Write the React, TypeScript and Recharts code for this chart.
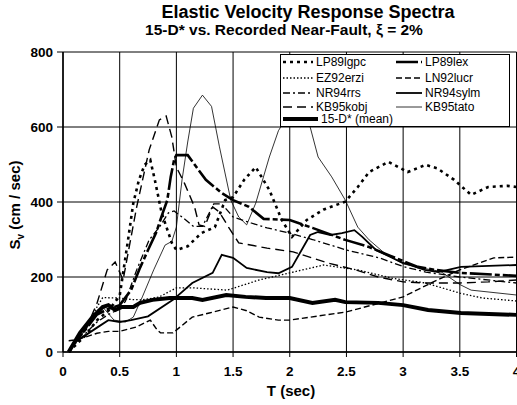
import React from 'react';
import { LineChart, Line, XAxis, YAxis, CartesianGrid } from 'recharts';

type Pt = [number, number];

// period T (sec), Sv (cm/sec)
const LP89lgpc: Pt[] = [[0.05,0],[0.1,15],[0.2,45],[0.3,85],[0.4,110],[0.5,150],[0.57,291],[0.62,397],[0.67,459],[0.72,499],[0.77,512],[0.81,459],[0.87,371],[0.96,291],[1.0,272],[1.1,282],[1.22,317],[1.34,333],[1.43,405],[1.5,413],[1.6,460],[1.7,493],[1.82,432],[1.93,352],[2.02,307],[2.15,352],[2.3,380],[2.49,401],[2.6,440],[2.7,480],[2.87,507],[3.04,480],[3.2,499],[3.3,490],[3.45,459],[3.6,419],[3.75,440],[3.92,443],[4.0,440]];
const LP89lex: Pt[] = [[0.05,0],[0.1,25],[0.2,60],[0.3,100],[0.4,115],[0.5,125],[0.6,165],[0.68,225],[0.75,272],[0.82,317],[0.88,371],[0.92,405],[0.95,467],[0.98,512],[1.0,525],[1.1,525],[1.26,459],[1.4,424],[1.5,405],[1.64,387],[1.77,355],[2.0,352],[2.2,331],[2.49,299],[2.7,280],[2.93,251],[3.13,227],[3.28,219],[3.5,211],[4.0,203]];
const EZ92erzi: Pt[] = [[0.05,0],[0.1,25],[0.2,60],[0.3,120],[0.35,145],[0.5,144],[0.6,140],[0.7,139],[0.85,147],[1.0,171],[1.15,171],[1.45,165],[1.73,192],[2.0,211],[2.3,232],[2.6,219],[2.9,197],[3.2,184],[3.5,157],[3.7,144],[4.0,136]];
const LN92lucr: Pt[] = [[0.05,30],[0.1,32],[0.2,40],[0.3,50],[0.4,55],[0.5,55],[0.65,67],[0.77,85],[0.83,59],[0.86,51],[0.97,51],[1.14,93],[1.29,104],[1.5,120],[1.62,110],[1.73,93],[1.9,85],[2.0,85],[2.5,107],[2.8,131],[3.0,147],[3.3,192],[3.5,219],[3.8,251],[4.0,253]];
const NR94rrs: Pt[] = [[0.05,0],[0.1,20],[0.2,50],[0.3,80],[0.4,100],[0.5,115],[0.55,135],[0.65,219],[0.76,299],[0.85,333],[0.93,371],[0.98,376],[1.05,360],[1.15,335],[1.23,335],[1.33,395],[1.4,395],[1.5,360],[1.66,344],[1.8,331],[2.0,317],[2.2,300],[2.5,272],[2.8,250],[3.0,228],[3.2,213],[3.5,200],[4.0,184]];
const NR94sylm: Pt[] = [[0.05,0],[0.1,25],[0.2,45],[0.3,65],[0.4,85],[0.5,80],[0.6,85],[0.75,95],[0.97,139],[1.14,184],[1.32,211],[1.4,259],[1.5,251],[1.62,224],[1.8,213],[1.9,210],[2.02,227],[2.18,312],[2.25,320],[2.36,312],[2.46,317],[2.57,325],[2.64,307],[2.76,272],[2.98,240],[3.19,219],[3.31,213],[3.51,227],[4.0,232]];
const KB95kobj: Pt[] = [[0.05,0],[0.1,20],[0.2,60],[0.3,130],[0.39,219],[0.46,240],[0.53,192],[0.65,387],[0.76,539],[0.85,619],[0.91,629],[0.96,573],[1.0,493],[1.07,451],[1.16,387],[1.2,339],[1.25,335],[1.32,387],[1.38,373],[1.46,333],[1.55,291],[1.8,277],[2.03,267],[2.34,237],[2.58,219],[2.78,200],[3.0,187],[3.2,184],[3.5,184],[3.75,187],[4.0,192]];
const KB95tato: Pt[] = [[0.05,0],[0.15,40],[0.3,100],[0.35,120],[0.45,85],[0.55,80],[0.62,93],[0.7,147],[0.8,219],[0.9,285],[0.96,295],[1.0,333],[1.05,459],[1.1,560],[1.15,650],[1.23,685],[1.31,655],[1.38,547],[1.48,405],[1.55,360],[1.62,339],[1.7,397],[1.82,520],[1.9,590],[2.0,640],[2.1,680],[2.18,600],[2.25,520],[2.37,467],[2.49,405],[2.6,333],[2.7,299],[2.85,260],[3.0,235],[3.2,222],[3.33,215],[3.5,180],[3.6,165],[4.0,152]];
const mean15D: Pt[] = [[0.05,0],[0.15,51],[0.26,93],[0.35,120],[0.4,125],[0.46,112],[0.52,120],[0.62,120],[0.68,131],[0.79,139],[0.94,144],[1.14,144],[1.23,139],[1.44,152],[1.61,147],[1.79,144],[2.0,144],[2.2,131],[2.4,139],[2.49,133],[2.78,131],[3.0,125],[3.22,112],[3.51,104],[4.0,99]];

const xTicks = [0, 0.5, 1, 1.5, 2, 2.5, 3, 3.5, 4];
const yTicks = [0, 200, 400, 600, 800];

const series = [
  { name: 'LP89lgpc', pts: LP89lgpc, w: 2.6, dash: '3 4' },
  { name: 'LP89lex', pts: LP89lex, w: 2.6, dash: '22 3 5 3' },
  { name: 'EZ92erzi', pts: EZ92erzi, w: 1.3, dash: '1.5 2' },
  { name: 'LN92lucr', pts: LN92lucr, w: 1.4, dash: '6 3' },
  { name: 'NR94rrs', pts: NR94rrs, w: 1.3, dash: '7 3 2 3' },
  { name: 'NR94sylm', pts: NR94sylm, w: 1.8, dash: undefined },
  { name: 'KB95kobj', pts: KB95kobj, w: 1.4, dash: '9 5' },
  { name: 'KB95tato', pts: KB95tato, w: 0.8, dash: undefined },
  { name: '15-D* (mean)', pts: mean15D, w: 4, dash: undefined },
];

const toRows = (pts: Pt[]) => pts.map(([t, s]) => ({ t, s }));

const font = 'Arial, "Liberation Sans", Helvetica, sans-serif';

const Swatch = ({ w, dash, len }: { w: number; dash?: string; len: number }) => (
  <svg width={len} height={8} style={{ display: 'block' }}>
    <line x1={0} y1={4} x2={len} y2={4} stroke="#000" strokeWidth={w} strokeDasharray={dash} />
  </svg>
);

const rowTops = [1, 16.5, 31.5, 45.5, 58];

const LegendBox = () => {
  const colX = [2, 115];
  return (
    <div style={{ position: 'absolute', left: 280, top: 54, width: 230, height: 73, boxSizing: 'border-box', border: '1.5px solid #000', background: '#fff', zIndex: 2 }}>
      {series.map((s, i) => {
        const col = i === 8 ? 0 : i % 2;
        const row = Math.floor(i / 2);
        const len = i === 8 ? 35 : col === 0 ? 30 : 26;
        return (
          <div key={s.name} style={{ position: 'absolute', left: colX[col], top: rowTops[row], height: 12, lineHeight: '12px', display: 'flex', alignItems: 'center', gap: 3, fontFamily: font, fontSize: 12, whiteSpace: 'nowrap' }}>
            <Swatch w={s.w} dash={s.dash} len={len} />
            <span>{s.name}</span>
          </div>
        );
      })}
    </div>
  );
};

export default function App() {
  return (
    <div style={{ position: 'absolute', left: 0, top: 0, width: 517, height: 405, overflow: 'hidden', background: '#fff', fontFamily: font }}>
      <div style={{ position: 'absolute', left: 308, top: 2, transform: 'translateX(-50%)', fontSize: 18, fontWeight: 'bold', whiteSpace: 'nowrap' }}>
        Elastic Velocity Response Spectra
      </div>
      <div style={{ position: 'absolute', left: 284, top: 21, transform: 'translateX(-50%)', fontSize: 15.5, fontWeight: 'bold', whiteSpace: 'nowrap' }}>
        15-D* vs. Recorded Near-Fault, ξ = 2%
      </div>
      <div style={{ position: 'absolute', left: 16, top: 205, transform: 'translate(-50%, -50%) rotate(-90deg)', fontSize: 15, fontWeight: 'bold', whiteSpace: 'nowrap' }}>
        S<sub style={{ fontSize: 10 }}>v</sub> (cm / sec)
      </div>
      <div style={{ position: 'absolute', left: 291, top: 382, transform: 'translateX(-50%)', fontSize: 15, fontWeight: 'bold', whiteSpace: 'nowrap' }}>
        T (sec)
      </div>
      <LegendBox />
      <div style={{ position: 'absolute', left: 0, top: 0 }}>
        <LineChart width={530} height={405} margin={{ top: 52, right: 13.5, bottom: 0, left: 0 }}>
          <CartesianGrid stroke="#000" strokeWidth={1} />
          <XAxis
            dataKey="t"
            type="number"
            domain={[0, 4]}
            ticks={xTicks}
            height={53}
            tickSize={5}
            tickMargin={9}
            axisLine={{ stroke: '#000', strokeWidth: 1.5 }}
            tickLine={{ stroke: '#000' }}
            tick={{ fill: '#000', fontSize: 13.5, fontWeight: 'bold', fontFamily: font }}
            allowDuplicatedCategory={false}
          />
          <YAxis
            type="number"
            domain={[0, 800]}
            ticks={yTicks}
            width={63}
            tickSize={6}
            tickMargin={4}
            axisLine={{ stroke: '#000', strokeWidth: 1.5 }}
            tickLine={{ stroke: '#000' }}
            tick={{ fill: '#000', fontSize: 13.5, fontWeight: 'bold', fontFamily: font }}
          />
          {series.map((s) => (
            <Line
              key={s.name}
              data={toRows(s.pts)}
              dataKey="s"
              type="linear"
              stroke="#000"
              strokeWidth={s.w}
              strokeDasharray={s.dash}
              dot={false}
              activeDot={false}
              isAnimationActive={false}
            />
          ))}
        </LineChart>
      </div>
    </div>
  );
}
